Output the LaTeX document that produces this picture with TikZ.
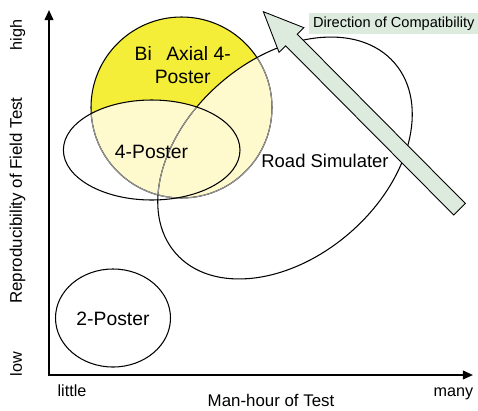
\documentclass[tikz,border=0pt]{standalone}
\usepackage{fontspec}
\setmainfont{Liberation Sans}
\usetikzlibrary{arrows.meta}

\definecolor{biaxyellow}{RGB}{244,238,56}
\definecolor{paleyellow}{RGB}{255,250,206}
\definecolor{arrowgreen}{RGB}{221,234,222}
\definecolor{linegray}{RGB}{150,150,150}

% outlines of the three test-rig regions, reused for fills and clips
\newcommand{\biaxialpath}{(18.15,-10.75) circle (9.05)}
\newcommand{\fourposterpath}{(15.17,-15) ellipse (8.83 and 5)}
\newcommand{\roadsimpath}{(28.5,-15.8) ellipse [x radius=14.5, y radius=9.9, rotate=41]}

\tikzset{
  rig/.style={black, line width=0.6pt},
  riglabel/.style={font=\fontsize{11}{12.8}\selectfont},
  axislabel/.style={font=\fontsize{9.6}{11}\selectfont},
  endlabel/.style={font=\fontsize{9.2}{11}\selectfont},
  axis/.style={black, line width=1.1pt, {Triangle[length=5.8pt,width=5pt]}-{Triangle[length=5.8pt,width=5pt]}}
}

\begin{document}
\begin{tikzpicture}[scale=0.2]
    \tikzstyle{every node}+=[inner sep=0pt]
    \useasboundingbox (0,0) rectangle (47.8,-41);
    % bi axial circle, paler where the ellipses lie over it
    \fill [biaxyellow] \biaxialpath;
    \begin{scope}
      \clip \biaxialpath;
      \fill [paleyellow] \roadsimpath;
      \fill [paleyellow] \fourposterpath;
    \end{scope}
    \draw [rig] \biaxialpath;
    \begin{scope}
      \clip \roadsimpath;
      \draw [rig, linegray] \biaxialpath;
    \end{scope}
    \begin{scope}
      \clip \fourposterpath;
      \draw [rig, linegray] \biaxialpath;
    \end{scope}
    % road simulater
    \draw [rig] \roadsimpath;
    \begin{scope}
      \clip \biaxialpath;
      \clip \fourposterpath;
      \draw [rig, linegray] \roadsimpath;
    \end{scope}
    % 4-poster
    \draw [rig] \fourposterpath;
    % 2-poster
    \draw [rig] (11.3,-31.8) ellipse (5.75 and 4.9);
    % direction arrow
    \begin{scope}[shift={(45.95,-20.92)}, rotate=134.8]
      \draw [black, line width=0.5pt, fill=arrowgreen] (0,-0.82) -- (23.85,-0.82) -- (23.85,-1.75) -- (27.84,0) -- (23.85,1.75) -- (23.85,0.82) -- (0,0.82) -- cycle;
    \end{scope}
    \node (compat) [anchor=west, fill=arrowgreen, inner xsep=2.3pt, inner ysep=2.1pt, text height=6pt, text depth=1.8pt, font=\fontsize{8.3}{10}\selectfont] at (30.87,-2.38) {Direction of Compatibility};
    % axes
    \coordinate (origin) at (4.9,-37.5);
    \coordinate (yhigh) at (4.9,-1.0);
    \coordinate (xmany) at (47.3,-37.5);
    \draw [axis] (yhigh) -- (origin) -- (xmany);
    % labels
    \node (biaxial) [riglabel, align=center] at (18.27,-6.5) {Bi\hspace{0.75em}Axial 4-\\Poster};
    \node (fourposter) [riglabel] at (15.15,-15.15) {4-Poster};
    \node (twoposter) [riglabel] at (11.3,-31.87) {2-Poster};
    \node (roadsim) [font=\fontsize{10.5}{12}\selectfont] at (32.5,-16.1) {Road Simulater};
    \node (little) [endlabel, anchor=base] at (7.2,-39.6) {little};
    \node (many) [endlabel, anchor=base] at (45.35,-39.6) {many};
    \node (manhour) [axislabel, anchor=base] at (27.1,-40.65) {Man-hour of Test};
    \node (high) [endlabel, anchor=base, rotate=90] at (2.2,-3.5) {high};
    \node (repro) [axislabel, anchor=base, rotate=90] at (2.2,-20.05) {Reproducibility of Field Test};
    \node (low) [endlabel, anchor=base, rotate=90] at (2.2,-36.4) {low};
\end{tikzpicture}
\end{document}
